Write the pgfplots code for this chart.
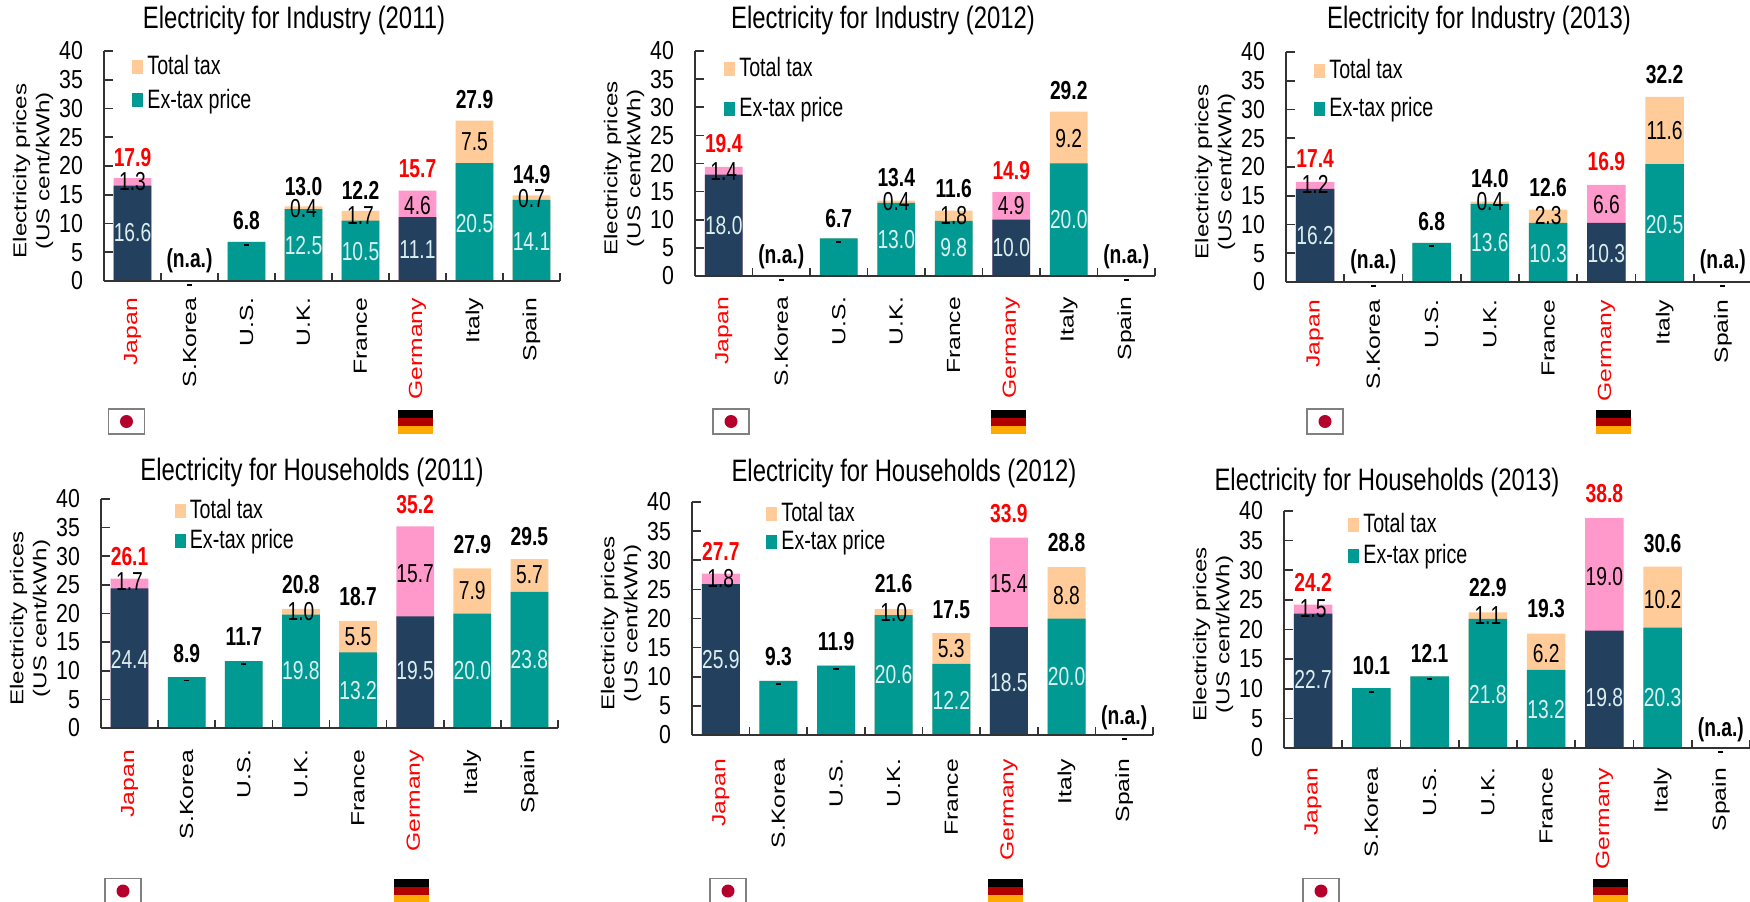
\documentclass[border=0pt]{standalone}
\usepackage{fontspec}
\setmainfont[FakeStretch=0.82]{Liberation Sans}
\newfontfamily\widefont[FakeStretch=1.3]{Liberation Sans}
\newfontfamily\titlefont[FakeStretch=0.77]{Liberation Sans}
\newfontfamily\labelfont[FakeStretch=0.74]{Liberation Sans}
\usepackage{pgfplots}
\usepackage{pgfplotstable}
\pgfplotsset{compat=1.18}

\definecolor{navy}{HTML}{24405F}
\definecolor{teal2}{HTML}{009A93}
\definecolor{peach}{HTML}{FFCC99}
\definecolor{pink2}{HTML}{FF99CC}
\definecolor{axisgray}{HTML}{333333}
\definecolor{barlabel}{HTML}{DCEFEF}
\definecolor{flagred}{HTML}{B5002E}
\definecolor{flaggold}{HTML}{FFAA00}

% x base total | base label, y | tax label, y | sum label, y | dash y
\pgfplotstableread{
x base total bl by tl ty sl sy d
0 16.6 17.9 16.6 8.5 1.3 17.3 17.9 21.5 nan
1 0 0 - nan - nan (n.a.) 3.5 -0.7
2 6.8 6.8 - nan - nan 6.8 10.5 6.2
3 12.5 13.0 12.5 6.2 0.4 12.6 13.0 16.5 nan
4 10.5 12.2 10.5 5.2 1.7 11.4 12.2 15.8 nan
5 11.1 15.7 11.1 5.5 4.6 13.2 15.7 19.5 nan
6 20.5 27.9 20.5 10 7.5 24.2 27.9 31.5 nan
7 14.1 14.9 14.1 6.9 0.7 14.3 14.9 18.5 nan
}\indA
\pgfplotstableread{
x base total bl by tl ty sl sy d
0 18.0 19.4 18.0 9 1.4 18.6 19.4 23.5 nan
1 0 0 - nan - nan (n.a.) 3.5 -0.7
2 6.7 6.7 - nan - nan 6.7 10.3 6.1
3 13.0 13.4 13.0 6.5 0.4 13.2 13.4 17.5 nan
4 9.8 11.6 9.8 5 1.8 10.8 11.6 15.5 nan
5 10.0 14.9 10.0 5 4.9 12.5 14.9 18.7 nan
6 20.0 29.2 20.0 10 9.2 24.5 29.2 33 nan
7 0 0 - nan - nan (n.a.) 3.5 -0.7
}\indB
\pgfplotstableread{
x base total bl by tl ty sl sy d
0 16.2 17.4 16.2 8 1.2 16.9 17.4 21.5 nan
1 0 0 - nan - nan (n.a.) 3.5 -0.7
2 6.8 6.8 - nan - nan 6.8 10.5 6.2
3 13.6 14.0 13.6 6.8 0.4 14 14.0 18 nan
4 10.3 12.6 10.3 5 2.3 11.5 12.6 16.5 nan
5 10.3 16.9 10.3 5 6.6 13.5 16.9 21 nan
6 20.5 32.2 20.5 10 11.6 26.3 32.2 36 nan
7 0 0 - nan - nan (n.a.) 3.5 -0.7
}\indC
\pgfplotstableread{
x base total bl by tl ty sl sy d
0 24.4 26.1 24.4 12 1.7 25.5 26.1 30 nan
1 8.9 8.9 - nan - nan 8.9 13 8.3
2 11.7 11.7 - nan - nan 11.7 16 11.2
3 19.8 20.8 19.8 10 1.0 20.3 20.8 25 nan
4 13.2 18.7 13.2 6.5 5.5 16 18.7 23 nan
5 19.5 35.2 19.5 10 15.7 27 35.2 39 nan
6 20.0 27.9 20.0 10 7.9 24 27.9 32 nan
7 23.8 29.5 23.8 12 5.7 26.7 29.5 33.5 nan
}\houA
\pgfplotstableread{
x base total bl by tl ty sl sy d
0 25.9 27.7 25.9 13 1.8 26.8 27.7 31.5 nan
1 9.3 9.3 - nan - nan 9.3 13.5 8.8
2 11.9 11.9 - nan - nan 11.9 16 11.4
3 20.6 21.6 20.6 10.3 1.0 21 21.6 26 nan
4 12.2 17.5 12.2 6 5.3 14.8 17.5 21.5 nan
5 18.5 33.9 18.5 9 15.4 26 33.9 38 nan
6 20.0 28.8 20.0 10 8.8 24 28.8 33 nan
7 0 0 - nan - nan (n.a.) 3 -0.7
}\houB
\pgfplotstableread{
x base total bl by tl ty sl sy d
0 22.7 24.2 22.7 11.5 1.5 23.5 24.2 28 nan
1 10.1 10.1 - nan - nan 10.1 14 9.5
2 12.1 12.1 - nan - nan 12.1 16 11.6
3 21.8 22.9 21.8 9 1.1 22.3 22.9 27 nan
4 13.2 19.3 13.2 6.5 6.2 16 19.3 23.5 nan
5 19.8 38.8 19.8 8.5 19.0 29 38.8 43 nan
6 20.3 30.6 20.3 8.5 10.2 25 30.6 34.5 nan
7 0 0 - nan - nan (n.a.) 3 -0.7
}\houC

\pgfplotsset{
  panel/.style={
    scale only axis, clip=false, axis on top,
    ymin=0, ymax=40, ytick={0,5,...,40},
    xmin=-0.5, xmax=7.5,
    xtick={0,...,7},
    xticklabels={\textcolor{red}{Japan},S.Korea,U.S.,U.K.,France,\textcolor{red}{Germany},Italy,Spain},
    minor xtick={-0.5,0.5,...,7.5},
    axis x line*=bottom, axis y line*=left,
    axis line style={axisgray, line width=0.9pt, -},
    tick style={axisgray, line width=0.8pt},
    major x tick style={draw=none},
    tick align=inside, major tick length=4.5pt, minor tick length=4pt,
    yticklabel style={font=\fontsize{13}{14}\selectfont, xshift=-7pt},
    /pgf/number format/assume math mode=true,
    ylabel={Electricity prices\\(US cent/kWh)},
    ylabel style={at={(axis description cs:0,0.5)}, anchor=center, align=center, yshift=35.5pt, xshift=-2.5pt,
      font=\widefont\fontsize{9.3}{11.5}\selectfont},
    bar width=0.66,
    every axis legend/.append style={draw=none, fill=none, anchor=north west, at={(0,1)},
      font=\labelfont\fontsize{13.3}{12}\selectfont, cells={anchor=west}},
    legend image code/.code={\fill[##1] (0pt,-3.5pt) rectangle (5.5pt,3.5pt);},
  },
  lab/.style={draw=none, mark=none, forget plot, nodes near coords, point meta=explicit symbolic,
    nodes near coords style={anchor=center, inner sep=0pt, #1}},
  keyjd/.style={x filter/.expression={or(x==0,x==5) ? x : nan}},
  keyrest/.style={x filter/.expression={or(x==0,x==5) ? nan : x}},
}

% #1 left #2 right #3 top #4 bottom in image pixels, #5 table,
% #6 #7 legend shift, #8 row gap, #9 drop of the category labels
\newcommand{\panel}[9]{%
  \pgfmathsetlengthmacro{\pw}{(#2-#1)*0.5pt}%
  \pgfmathsetlengthmacro{\ph}{(#4-#3)*0.5pt}%
  \pgfmathsetlengthmacro{\px}{#1*0.5pt}%
  \pgfmathsetlengthmacro{\py}{(901-#4)*0.5pt}%
  \begin{axis}[panel, at={(\px,\py)}, anchor=south west, width=\pw, height=\ph,
      xticklabel style={rotate=90, anchor=east, font=\widefont\fontsize{9.5}{12}\selectfont, xshift=#9pt},
      legend style={xshift=#6pt, yshift=#7pt, row sep=#8pt}]
    \addlegendimage{fill=peach, draw=none}
    \addlegendentry{Total tax}
    \addlegendimage{fill=teal2, draw=none}
    \addlegendentry{Ex-tax price}
    \addplot[forget plot, ybar, bar shift=0pt, draw=none, fill=pink2, keyjd] table[x=x, y=total] {#5};
    \addplot[forget plot, ybar, bar shift=0pt, draw=none, fill=peach, keyrest] table[x=x, y=total] {#5};
    \addplot[forget plot, ybar, bar shift=0pt, draw=none, fill=navy, keyjd] table[x=x, y=base] {#5};
    \addplot[forget plot, ybar, bar shift=0pt, draw=none, fill=teal2, keyrest] table[x=x, y=base] {#5};
    \addplot[lab={text=barlabel, font=\labelfont\fontsize{13}{14}\selectfont}] table[x=x, y=by, meta=bl] {#5};
    \addplot[lab={text=black, font=\labelfont\fontsize{13}{14}\selectfont}] table[x=x, y=ty, meta=tl] {#5};
    \addplot[lab={text=red, font=\labelfont\bfseries\fontsize{13}{14}\selectfont}, keyjd] table[x=x, y=sy, meta=sl] {#5};
    \addplot[lab={text=black, font=\labelfont\bfseries\fontsize{13}{14}\selectfont}, keyrest] table[x=x, y=sy, meta=sl] {#5};
    \addplot[forget plot, only marks, mark=-, mark size=1.3pt, black, line width=0.9pt] table[x=x, y=d] {#5};
  \end{axis}%
}
\newcommand{\headline}[3]{\node[font=\titlefont\fontsize{15.5}{17}\selectfont] at (#1,901-#2) {#3};}
\newcommand{\flags}[3]{%
  \draw[gray, line width=0.7pt, fill=white] (#1-18,901-#3-12.5) rectangle (#1+18,901-#3+12.5);
  \fill[flagred] (#1,901-#3) circle[radius=6.5];
  \fill[black] (#2-17.5,901-#3+4) rectangle (#2+17.5,901-#3+12);
  \fill[red!70!black] (#2-17.5,901-#3-4) rectangle (#2+17.5,901-#3+4);
  \fill[flaggold] (#2-17.5,901-#3-12) rectangle (#2+17.5,901-#3-4);
}

\begin{document}
\begin{tikzpicture}[x=0.5pt, y=0.5pt]
\useasboundingbox (0,0) rectangle (1750,901);
\panel{104}{560}{51}{281}{\indA}{11}{2}{1.6}{-5}
\panel{695}{1155}{51}{276}{\indB}{11.5}{1}{5}{-7}
\panel{1286}{1752}{52}{282}{\indC}{11}{0.5}{4}{-5.5}
\panel{101}{558}{499}{728}{\houA}{33.7}{4}{0}{-7.5}
\panel{692}{1153}{502}{735}{\houB}{34}{4}{-1}{-8.5}
\panel{1284}{1750}{511}{748}{\houC}{29}{3}{0.5}{-6.5}
\headline{294}{20}{Electricity for Industry (2011)}
\headline{883}{20}{Electricity for Industry (2012)}
\headline{1479}{20}{Electricity for Industry (2013)}
\headline{312}{472}{Electricity for Households (2011)}
\headline{904}{473}{Electricity for Households (2012)}
\headline{1387}{482}{Electricity for Households (2013)}
\flags{126.5}{415}{421.5}
\flags{731}{1008.5}{421.5}
\flags{1325}{1613.5}{421.5}
\flags{123}{411.5}{891}
\flags{728}{1005}{891}
\flags{1321}{1610}{891}
\end{tikzpicture}
\end{document}
